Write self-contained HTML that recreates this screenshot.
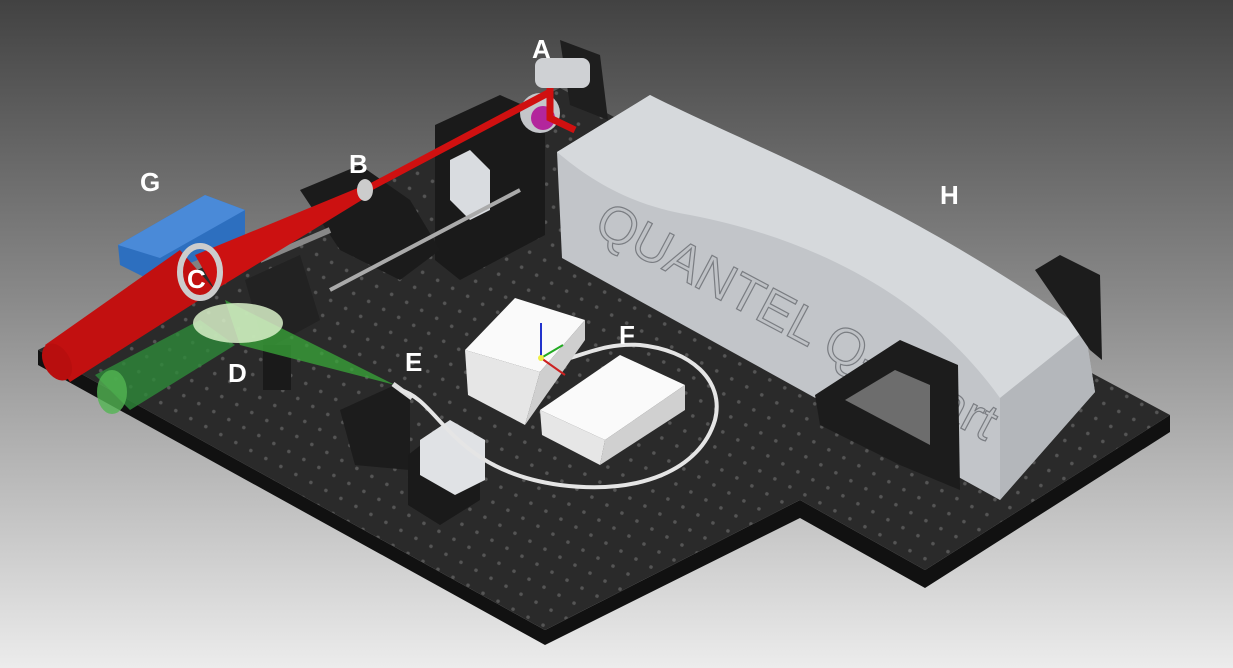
<!DOCTYPE html>
<html><head><meta charset="utf-8"><style>
html,body{margin:0;padding:0;width:1233px;height:668px;overflow:hidden}
svg{display:block}
text{font-family:"Liberation Sans",sans-serif}
</style></head><body>
<svg width="1233" height="668" viewBox="0 0 1233 668" xmlns="http://www.w3.org/2000/svg">
<defs>
<linearGradient id="bg" x1="0" y1="0" x2="0" y2="1">
<stop offset="0" stop-color="#424242"/><stop offset="0.45" stop-color="#8a8a8a"/><stop offset="1" stop-color="#ececec"/>
</linearGradient>
<pattern id="holes" width="17" height="17" patternUnits="userSpaceOnUse" patternTransform="rotate(28)">
<circle cx="8" cy="8" r="1.8" fill="#555"/>
</pattern>
<linearGradient id="laser" x1="0" y1="0" x2="1" y2="1">
<stop offset="0" stop-color="#c9ccd0"/><stop offset="1" stop-color="#a9adb2"/>
</linearGradient>
</defs>
<rect width="1233" height="668" fill="url(#bg)"/>
<polygon points="38,350 545,630 800,500 925,570 1170,415 1170,432 925,588 800,518 545,645 38,365" fill="#111"/>
<polygon points="38,350 560,88 1170,415 925,570 800,500 545,630" fill="#2a2a2a"/>
<polygon points="38,350 560,88 1170,415 925,570 800,500 545,630" fill="url(#holes)"/>
<polygon points="560,40 600,55 608,120 570,105" fill="#1e1e1e"/>
<!-- laser H -->
<polygon points="557,152 650,95 1085,330 1095,392 1000,500 562,258" fill="#c2c5c9"/>
<path d="M557,152 L650,95 C760,150 900,200 1085,330 L1000,398 C930,300 820,240 690,215 C630,205 590,180 557,152 Z" fill="#d6d9dc"/>
<polygon points="1000,398 1085,330 1095,392 1000,500" fill="#b4b7bb"/>
<text x="592" y="232" font-size="52" fill="#bfc2c6" stroke="#7a7d82" stroke-width="1.2" transform="rotate(28 592 232)">QUANTEL Q-smart</text>
<polygon points="815,395 900,340 958,365 960,490 900,465 820,425" fill="#1c1c1c"/>
<polygon points="845,400 895,370 930,385 930,445" fill="#6d6d6d"/>
<polygon points="1035,270 1060,255 1100,275 1102,360 1090,350" fill="#1c1c1c"/>
<polygon points="435,125 500,95 545,115 545,235 460,280 435,260" fill="#1a1a1a"/>
<polygon points="450,160 470,150 490,170 490,210 470,220 450,200" fill="#d9dce0"/>
<polygon points="300,190 360,165 410,200 440,250 400,280 340,250" fill="#1b1b1b"/>
<line x1="330" y1="290" x2="520" y2="190" stroke="#aaa" stroke-width="4"/>
<line x1="260" y1="260" x2="330" y2="230" stroke="#888" stroke-width="6"/>
<polygon points="245,280 300,255 320,320 265,350" fill="#222"/>
<rect x="263" y="345" width="28" height="45" fill="#1a1a1a"/>
<polygon points="118,245 205,195 245,210 245,240 150,280 120,265" fill="#2d6fbf"/>
<polygon points="118,245 205,195 245,210 160,258" fill="#4a8ad8"/>
<circle cx="540" cy="113" r="20" fill="#c4c6ca"/>
<circle cx="543" cy="118" r="12" fill="#b3269c"/>
<rect x="535" y="58" width="55" height="30" rx="8" fill="#cfd1d4"/>
<polyline points="550,88 550,118 575,130" stroke="#d01010" stroke-width="7" fill="none"/>
<line x1="550" y1="92" x2="365" y2="190" stroke="#d01010" stroke-width="7"/>
<polygon points="365,185 370,195 215,290 195,255" fill="#cc1111"/>
<polygon points="180,250 215,290 70,382 45,345" fill="#c21010"/>
<ellipse cx="57" cy="362" rx="13" ry="20" fill="#b80e0e" transform="rotate(-30 57 362)"/>
<ellipse cx="365" cy="190" rx="8" ry="11" fill="#ccc"/>
<ellipse cx="200" cy="272" rx="20" ry="26" fill="none" stroke="#ccc" stroke-width="6"/>
<polygon points="225,300 395,385 240,345" fill="#3aa83a" opacity="0.75"/>
<polygon points="95,375 200,320 235,345 130,410" fill="#2e8a3a" opacity="0.8"/>
<ellipse cx="112" cy="392" rx="15" ry="22" fill="#53b553" opacity="0.8"/>
<ellipse cx="238" cy="323" rx="45" ry="20" fill="#d8f0c8" opacity="0.85"/>
<polygon points="340,410 395,385 410,400 410,470 355,465" fill="#1c1c1c"/>
<polygon points="408,455 440,430 480,440 480,500 440,525 408,505" fill="#1a1a1a"/>
<polygon points="420,440 450,420 485,440 485,480 455,495 420,475" fill="#e0e2e5"/>
<line x1="393" y1="384" x2="412" y2="398" stroke="#ddd" stroke-width="5"/>
<path d="M400,390 C440,400 450,470 560,485 C640,495 700,470 715,420 C725,380 690,350 640,345 C610,343 590,352 570,358" stroke="#e5e5e5" stroke-width="4" fill="none"/>
<polygon points="465,350 515,298 585,320 540,372" fill="#fafafa"/>
<polygon points="465,350 540,372 525,425 468,395" fill="#e6e6e6"/>
<polygon points="540,372 585,320 585,340 525,425" fill="#cfcfcf"/>
<polygon points="540,410 620,355 685,385 605,440" fill="#fafafa"/>
<polygon points="540,410 605,440 600,465 542,435" fill="#e6e6e6"/>
<polygon points="605,440 685,385 685,410 600,465" fill="#d0d0d0"/>
<line x1="541" y1="358" x2="541" y2="323" stroke="#2233cc" stroke-width="2"/>
<line x1="541" y1="358" x2="563" y2="345" stroke="#22aa22" stroke-width="2"/>
<line x1="541" y1="358" x2="565" y2="375" stroke="#cc2222" stroke-width="2"/>
<circle cx="541" cy="358" r="3" fill="#ee4"/>
<g font-size="26" font-weight="bold" fill="#fff">
<text x="532" y="58">A</text>
<text x="349" y="173">B</text>
<text x="140" y="191">G</text>
<text x="187" y="288">C</text>
<text x="228" y="382">D</text>
<text x="405" y="371">E</text>
<text x="619" y="344">F</text>
<text x="940" y="204">H</text>
</g>
</svg>
</body></html>
